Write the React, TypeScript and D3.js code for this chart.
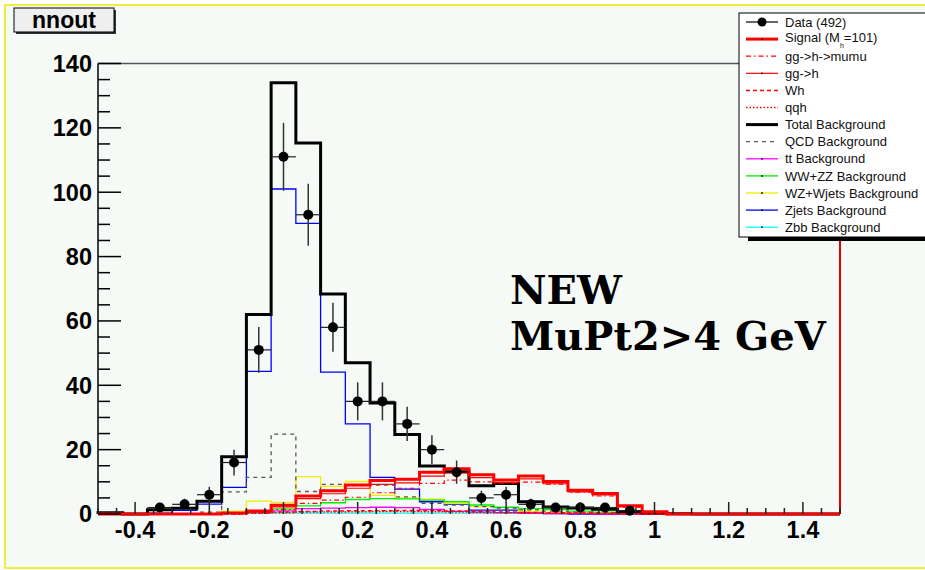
import * as d3 from "d3"

// histogram binning of nnout
const binLo = -0.5
const binHi = 1.5
const nBins = 30

// per-bin contents (30 bins)
const dataCounts = [0, 0, 2, 3, 6, 16, 51, 111, 93, 58, 35, 35, 28, 20, 13, 5, 6, 3, 2, 2, 2, 1, 0, 0, 0, 0, 0, 0, 0, 0]
const totalBkg = [0.4, 0, 1.3, 1.8, 4, 17.8, 62, 134, 115.3, 68.4, 47, 34.5, 24.7, 14.9, 13.1, 8.8, 9.5, 3.8, 2.2, 1.9, 1.5, 0.8, 0.3, 0.1, 0, 0, 0, 0, 0, 0]
const qcdBkg = [0, 0, 0, 0, 0.6, 6.9, 11.4, 24.8, 7, 9.2, 8.8, 9, 5.3, 3.3, 2.8, 2.3, 1.8, 1.3, 0.9, 0.6, 0.4, 0.2, 0, 0, 0, 0, 0, 0, 0, 0]
const ttBkg = [0, 0, 0, 0, 0, 0.2, 0.6, 1, 1.7, 1.8, 2, 2.1, 2, 1.4, 0.8, 0.6, 0.4, 0.2, 0.1, 0.1, 0, 0, 0, 0, 0, 0, 0, 0, 0, 0]
const wwzzBkg = [0, 0, 0, 0, 0, 0.3, 0.8, 1.6, 2.5, 3.5, 4.5, 4.8, 4.7, 4.3, 3.8, 2.8, 2.1, 1.7, 1.4, 0.9, 0.6, 0.4, 0.2, 0, 0, 0, 0, 0, 0, 0]
const wzWjetsBkg = [0, 0, 0, 0, 0, 0.9, 4, 3.6, 11.6, 8.6, 10.1, 5.8, 5, 4.6, 3.3, 2.3, 2, 0.8, 0.5, 0.3, 0.2, 0.1, 0, 0, 0, 0, 0, 0, 0, 0]
const zjetsBkg = [0.4, 0, 0.3, 1.1, 3.1, 8.3, 44.3, 101, 90.3, 44.1, 28, 11.4, 7.7, 3.8, 3.1, 1.2, 1.2, 0.3, 0.1, 0, 0, 0, 0, 0, 0, 0, 0, 0, 0, 0]
const zbbBkg = [0, 0, 0, 0, 0, 0.1, 0.2, 0.3, 0.3, 0.3, 0.3, 0.3, 0.3, 0.3, 0.3, 0.3, 0.2, 0.2, 0.2, 0.2, 0.1, 0.1, 0, 0, 0, 0, 0, 0, 0, 0]
const signalTot = [0, 0, 0, 0, 0, 0.3, 0.9, 2.7, 5.6, 7.2, 9, 10.4, 10.8, 13, 14.1, 12.2, 10.6, 11.8, 10.1, 7.4, 6.4, 2.6, 0.7, 0, 0, 0, 0, 0, 0, 0]
const ggH = [0, 0, 0, 0, 0, 0.2, 0.7, 2.2, 4.8, 6.3, 8, 9.2, 9.7, 11.8, 12.8, 11.3, 9.8, 10.9, 9.4, 6.9, 5.9, 2.3, 0.6, 0, 0, 0, 0, 0, 0, 0]
const ggHmumu = [0, 0, 0, 0, 0, 0.1, 0.5, 1.4, 3.3, 4.3, 5.2, 6.6, 8, 9.5, 10.5, 10, 9.6, 9.9, 9.3, 6.8, 5.6, 2.1, 0.5, 0, 0, 0, 0, 0, 0, 0]
const whSig = [0, 0, 0, 0, 0, 0, 0.3, 0.6, 0.8, 0.9, 1, 1, 1.1, 1, 0.9, 0.8, 0.6, 0.5, 0.4, 0.3, 0.2, 0.1, 0, 0, 0, 0, 0, 0, 0, 0]
const qqhSig = [0, 0, 0, 0, 0, 0, 0.2, 0.4, 0.6, 0.6, 0.7, 0.8, 0.8, 0.7, 0.6, 0.5, 0.4, 0.3, 0.3, 0.2, 0.1, 0.1, 0, 0, 0, 0, 0, 0, 0, 0]

const xTickValues = [-0.4, -0.2, 0, 0.2, 0.4, 0.6, 0.8, 1, 1.2, 1.4]
const xTickLabels = ["-0.4", "-0.2", "-0", "0.2", "0.4", "0.6", "0.8", "1", "1.2", "1.4"]
const yTickValues = [0, 20, 40, 60, 80, 100, 120, 140]

const legendLabels = [
  "Data (492)",
  "Signal (M",
  "gg->h->mumu",
  "gg->h",
  "Wh",
  "qqh",
  "Total Background",
  "QCD Background",
  "tt Background",
  "WW+ZZ Background",
  "WZ+Wjets Background",
  "Zjets Background",
  "Zbb Background",
]

const W = 925
const H = 570
const bg = "#f6faf7"
const sans = "'Liberation Sans', Arial, sans-serif"

type Style = { color: string; width: number; dash?: string; dot?: boolean }

const styles: Style[] = [
  { color: "#000", width: 1.2 },
  { color: "#ff0000", width: 3, dot: true },
  { color: "#ff0000", width: 1.2, dash: "5,3,1.5,3" },
  { color: "#ff0000", width: 1.2, dot: true },
  { color: "#ff0000", width: 1.5, dash: "4,3" },
  { color: "#ff0000", width: 1.5, dash: "1.5,2" },
  { color: "#000", width: 3 },
  { color: "#555", width: 1.3, dash: "4,4" },
  { color: "#ff00ff", width: 1.3, dot: true },
  { color: "#00ee00", width: 1.3, dot: true },
  { color: "#eeee00", width: 1.3, dot: true },
  { color: "#0000ff", width: 1.3, dot: true },
  { color: "#00ffff", width: 1.3, dot: true },
]

export default function App() {
  const x = d3.scaleLinear().domain([binLo, binHi]).range([98, 840])
  const y = d3.scaleLinear().domain([0, 140]).range([514, 63.5])
  const step = (binHi - binLo) / nBins
  const edges = d3.range(nBins + 1).map((i) => binLo + i * step)
  const centers = d3.range(nBins).map((i) => binLo + (i + 0.5) * step)

  const line = d3
    .line<[number, number]>()
    .x((d) => x(d[0]))
    .y((d) => y(d[1]))

  const stepPath = (vals: number[]) => {
    const pts: [number, number][] = [[edges[0], 0]]
    vals.forEach((v, i) => {
      pts.push([edges[i], v])
      pts.push([edges[i + 1], v])
    })
    pts.push([edges[nBins], 0])
    return line(pts) || ""
  }

  const hists: { vals: number[]; st: Style }[] = [
    { vals: zbbBkg, st: styles[12] },
    { vals: zjetsBkg, st: styles[11] },
    { vals: wzWjetsBkg, st: styles[10] },
    { vals: wwzzBkg, st: styles[9] },
    { vals: ttBkg, st: styles[8] },
    { vals: qcdBkg, st: styles[7] },
    { vals: totalBkg, st: styles[6] },
    { vals: qqhSig, st: styles[5] },
    { vals: whSig, st: styles[4] },
    { vals: ggHmumu, st: styles[2] },
    { vals: ggH, st: styles[3] },
    { vals: signalTot, st: styles[1] },
  ]

  const minorX = d3.range(-0.5, 1.5001, 0.05).filter((v) => !xTickValues.some((t) => Math.abs(t - v) < 1e-6))
  const minorY = d3.range(0, 140.001, 5).filter((v) => v % 20 !== 0)

  const legX = 739
  const legY = 13
  const rowH = 17.1

  return (
    <svg width={W} height={H} style={{ position: "fixed", left: 0, top: 0, display: "block" }}>
      <rect x={0} y={0} width={W} height={H} fill="#ffffff" />
      <rect x={5} y={5} width={W + 10} height={563} fill={bg} stroke="#eeee40" strokeWidth={2} />

      {/* frame */}
      <line x1={x(binLo)} x2={x(binHi)} y1={y(140)} y2={y(140)} stroke="#555" strokeWidth={1.5} />
      <line x1={x(binHi)} x2={x(binHi)} y1={y(140)} y2={y(0)} stroke="#e00000" strokeWidth={2} />

      {/* histograms */}
      {hists.map((h, i) => (
        <path
          key={i}
          d={stepPath(h.vals)}
          fill="none"
          stroke={h.st.color}
          strokeWidth={h.st.width}
          strokeDasharray={h.st.dash}
        />
      ))}

      {/* data points */}
      {dataCounts.map((n, i) =>
        n > 0 ? (
          <g key={i}>
            <line x1={x(centers[i])} x2={x(centers[i])} y1={y(n + Math.sqrt(n))} y2={y(Math.max(0, n - Math.sqrt(n)))} stroke="#333" strokeWidth={1.5} />
            <line x1={x(edges[i])} x2={x(edges[i + 1])} y1={y(n)} y2={y(n)} stroke="#222" strokeWidth={1.2} />
            <circle cx={x(centers[i])} cy={y(n)} r={5} fill="#000" />
          </g>
        ) : null,
      )}

      {/* y axis */}
      <line x1={x(binLo)} x2={x(binLo)} y1={y(0)} y2={y(140)} stroke="#000" strokeWidth={1.5} />
      {yTickValues.map((v) => (
        <g key={v}>
          <line x1={x(binLo)} x2={x(binLo) + 23} y1={y(v)} y2={y(v)} stroke="#000" strokeWidth={1.5} />
          <text x={92} y={y(v)} dy="0.36em" textAnchor="end" fontFamily={sans} fontWeight="bold" fontSize={23.5}>
            {v}
          </text>
        </g>
      ))}
      {minorY.map((v) => (
        <line key={v} x1={x(binLo)} x2={x(binLo) + 12} y1={y(v)} y2={y(v)} stroke="#000" strokeWidth={1.5} />
      ))}

      {/* x axis */}
      {xTickValues.map((v, i) => (
        <g key={v}>
          <line x1={x(v)} x2={x(v)} y1={y(0)} y2={y(0) - 12} stroke="#222" strokeWidth={1.5} />
          <text x={x(v)} y={538} textAnchor="middle" fontFamily={sans} fontWeight="bold" fontSize={23.5}>
            {xTickLabels[i]}
          </text>
        </g>
      ))}
      {minorX.map((v) => (
        <line key={v} x1={x(v)} x2={x(v)} y1={y(0)} y2={y(0) - 6} stroke="#222" strokeWidth={1.5} />
      ))}

      {/* big text */}
      <text x={510} y={304} fontFamily="'DejaVu Serif', serif" fontWeight="bold" fontSize={40}>
        NEW
      </text>
      <text x={510} y={350} fontFamily="'DejaVu Serif', serif" fontWeight="bold" fontSize={40}>
        MuPt2&gt;4 GeV
      </text>

      {/* title box */}
      <rect x={16} y={10} width={100} height={24} fill="#333" />
      <rect x={14} y={8} width={100} height={24} fill="#efefef" stroke="#000" strokeWidth={1} />
      <text x={64} y={28} textAnchor="middle" fontFamily={sans} fontWeight="bold" fontSize={23}>
        nnout
      </text>

      {/* legend */}
      <rect x={legX + 9} y={legY + 4} width={200} height={224} fill="#000" />
      <rect x={legX} y={legY} width={200} height={224} fill="#ffffff" stroke="#000" strokeWidth={1} />
      {legendLabels.map((lab, i) => {
        const cy = legY + 9 + i * rowH
        const st = styles[i]
        return (
          <g key={i}>
            <line x1={746} x2={778} y1={cy} y2={cy} stroke={st.color} strokeWidth={st.width} strokeDasharray={st.dash} />
            {i === 0 && <circle cx={762} cy={cy} r={4.5} fill="#000" />}
            {st.dot && <circle cx={762} cy={cy} r={0.9} fill="#000" />}
            <text x={785} y={i === 1 ? cy - 2 : cy} dy="0.36em" fontFamily={sans} fontSize={13} fill="#111">
              {lab}
              {i === 1 && (
                <>
                  <tspan fontSize={7} dy="6">h</tspan>
                  <tspan dy="-6">=101)</tspan>
                </>
              )}
            </text>
          </g>
        )
      })}
    </svg>
  )
}
